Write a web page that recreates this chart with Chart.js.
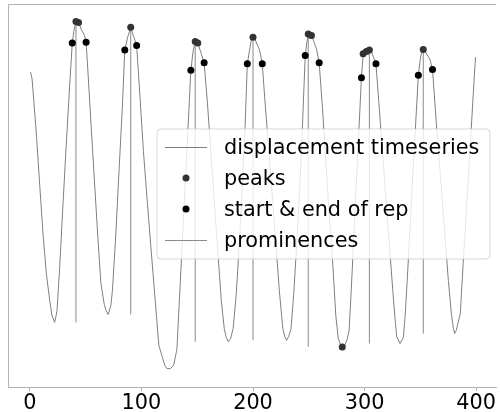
<!DOCTYPE html>
<html>
<head>
<meta charset="utf-8">
<script src="https://cdn.jsdelivr.net/npm/chart.js@4.4.1/dist/chart.umd.min.js"></script>
<style>
  html, body { margin: 0; padding: 0; background: #ffffff; }
  #wrap { width: 500px; height: 412px; position: relative; }
</style>
</head>
<body>
<div id="wrap"><canvas id="c" width="500" height="412"></canvas></div>
<script>
// ---- data ----
const timeX = [0.6, 2.0, 3.6, 6.0, 8.9, 11.8, 14.8, 17.8, 19.8, 22.2, 24.3, 26.7, 29.6, 32.6, 35.6, 38.0, 39.6, 41.3, 43.6, 46.0, 48.9, 50.4,
  51.8, 54.8, 57.8, 60.7, 63.7, 66.7, 68.4, 70.2, 72.6, 74.0, 77.1, 80.0, 82.9, 85.1, 87.6, 90.4, 92.7, 94.2, 95.7,
  98.7, 101.8, 105.2, 108.4, 112.0, 115.6, 118.5, 120.9, 122.9, 126.0, 128.9, 131.8, 134.8, 137.8, 140.7, 144.3, 146.2, 148.2, 150.5, 153.2, 156.2,
  159.1, 162.2, 165.3, 168.4, 171.6, 174.2, 176.0, 177.8, 180.0, 182.2, 184.9, 187.6, 190.2, 192.9, 194.9, 196.9, 198.5, 200.0, 201.8, 203.6, 205.3, 206.7, 208.3,
  211.1, 214.2, 217.3, 220.4, 223.6, 226.7, 228.4, 230.2, 232.0, 234.0, 236.4, 239.1, 241.8, 244.4, 246.8, 248.3, 249.5, 251.1, 252.4, 254.8, 256.9, 259.3,
  262.2, 265.3, 268.4, 271.6, 274.2, 276.4, 278.2, 280.0, 282.2, 284.4, 286.2, 288.9, 291.6, 294.2, 297.2, 298.2, 298.7, 301.6, 304.3, 306.2, 308.0, 310.2,
  312.9, 316.0, 319.1, 322.2, 325.3, 327.6, 328.9, 331.8, 334.8, 336.3, 338.7, 341.3, 344.4, 348.2, 349.8, 351.1, 352.6, 354.7, 356.9, 358.5, 360.9,
  364.4, 368.0, 371.6, 375.1, 377.8, 379.6, 380.7, 382.2, 383.7, 385.8, 388.4, 391.6, 394.7, 397.3, 399.4];
const displacement = [317, 310, 287, 252, 202, 154, 114, 87, 72, 65, 76, 120, 182, 244, 302, 346.3, 359, 368, 367, 360, 354, 347,
  322, 265, 209, 155, 104, 83, 77, 73, 82, 97, 155, 219, 282, 339.3, 352, 362, 354, 349, 343.7,
  292, 237, 187, 142, 92, 42, 31, 22, 18.5, 18.5, 22, 38, 105, 172, 237, 318.7, 337, 347.7, 346.3, 337, 326.3,
  287, 237, 187, 137, 87, 59, 50, 45.5, 49, 59, 92, 142, 197, 262, 325.3, 339, 349, 352, 350, 345, 341, 335, 325.3,
  282, 237, 192, 145, 97, 59, 51, 47, 51, 58, 92, 142, 197, 265, 333.7, 347, 355.3, 354, 353.7, 347, 340.3, 326.3,
  282, 227, 172, 122, 72, 49, 43, 40.3, 42, 48, 57, 117, 182, 242, 311.3, 327, 335.3, 337.7, 339.3, 337, 332, 325.3,
  285, 237, 190, 144, 97, 65, 50.3, 43.7, 50.3, 70.3, 117, 172, 237, 313.7, 329, 337, 339.7, 337, 333, 330, 319.5,
  264, 212, 159, 107, 74, 59, 53.7, 57, 64, 74, 125, 184, 242, 293, 332];

const peaksX = [41.3, 43.6, 90.4, 148.2, 150.5, 200.0, 249.5, 252.4, 280.0, 298.7, 301.6, 304.3, 352.6];
const peaksY = [368, 367, 362, 347.7, 346.3, 352, 355.3, 353.7, 40.3, 335.3, 337.7, 339.3, 339.7];

const repX = [38.0, 50.4, 85.1, 95.7, 144.3, 156.2, 194.9, 208.3, 246.8, 259.3, 297.2, 310.2, 348.2, 360.9];
const repY = [346.3, 347, 339.3, 343.7, 318.7, 326.3, 325.3, 325.3, 333.7, 326.3, 311.3, 325.3, 313.7, 319.5];

const promX = [41.3, 90.4, 148.2, 200.0, 249.5, 304.3, 352.6];
const promBase = [65, 73, 45.5, 47, 40.3, 43.7, 53.7];
const promTop = [368, 362, 347.7, 352, 355.3, 339.3, 339.7];

const xTickLabels = [0, 100, 200, 300, 400];
const seriesLabels = ['displacement timeseries', 'peaks', 'start & end of rep', 'prominences'];

// ---- build datasets ----
const lineData = timeX.map((x, i) => ({ x: x, y: displacement[i] }));
const peakData = peaksX.map((x, i) => ({ x: x, y: peaksY[i] }));
const repData = repX.map((x, i) => ({ x: x, y: repY[i] }));
const promData = [];
promX.forEach((x, i) => {
  promData.push({ x: x, y: promBase[i] });
  promData.push({ x: x, y: promTop[i] });
  promData.push({ x: x, y: null });
});

const LINE_COLOR = '#7f7f7f';
const PROM_COLOR = '#8a8a8a';
const PEAK_COLOR = '#333333';
const REP_COLOR = '#000000';
const SPINE_COLOR = '#b3b3b3';
const FONT = '"DejaVu Sans", Verdana, sans-serif';

const framePlugin = {
  id: 'frame',
  beforeDatasetsDraw(chart) {
    const { ctx, chartArea: a } = chart;
    ctx.save();
    ctx.strokeStyle = SPINE_COLOR;
    ctx.lineWidth = 1;
    ctx.beginPath();
    ctx.moveTo(a.left + 0.5, a.bottom);
    ctx.lineTo(a.left + 0.5, a.top + 0.5);
    ctx.lineTo(a.right, a.top + 0.5);
    ctx.stroke();
    ctx.restore();
  }
};

const legendPlugin = {
  id: 'boxLegend',
  afterDraw(chart) {
    const ctx = chart.ctx;
    const bx = 157, by = 129, bw = 333, bh = 130, r = 4;
    ctx.save();
    ctx.beginPath();
    ctx.moveTo(bx + r, by);
    ctx.lineTo(bx + bw - r, by);
    ctx.quadraticCurveTo(bx + bw, by, bx + bw, by + r);
    ctx.lineTo(bx + bw, by + bh - r);
    ctx.quadraticCurveTo(bx + bw, by + bh, bx + bw - r, by + bh);
    ctx.lineTo(bx + r, by + bh);
    ctx.quadraticCurveTo(bx, by + bh, bx, by + bh - r);
    ctx.lineTo(bx, by + r);
    ctx.quadraticCurveTo(bx, by, bx + r, by);
    ctx.closePath();
    ctx.fillStyle = 'rgba(255,255,255,0.8)';
    ctx.fill();
    ctx.strokeStyle = 'rgba(204,204,204,0.8)';
    ctx.lineWidth = 1;
    ctx.stroke();

    const rows = [147, 178, 209, 240];
    const kinds = ['line', 'peak', 'rep', 'line2'];
    ctx.font = '20.8px ' + FONT;
    ctx.fillStyle = '#000000';
    ctx.textBaseline = 'alphabetic';
    rows.forEach((yy, i) => {
      const k = kinds[i];
      if (k === 'line' || k === 'line2') {
        ctx.strokeStyle = k === 'line' ? LINE_COLOR : PROM_COLOR;
        ctx.lineWidth = 1;
        ctx.beginPath();
        ctx.moveTo(165, yy + 0.5);
        ctx.lineTo(207, yy + 0.5);
        ctx.stroke();
      } else {
        ctx.fillStyle = k === 'peak' ? PEAK_COLOR : REP_COLOR;
        ctx.beginPath();
        ctx.arc(186, yy, 3.5, 0, Math.PI * 2);
        ctx.fill();
      }
      ctx.fillStyle = '#000000';
      ctx.fillText(chart.data.datasets[i].label, 224, yy + 7);
    });
    ctx.restore();
  }
};

new Chart(document.getElementById('c'), {
  type: 'line',
  data: {
    datasets: [
      { label: seriesLabels[0], data: lineData, borderColor: LINE_COLOR, borderWidth: 1, pointRadius: 0, tension: 0, fill: false, order: 3 },
      { label: seriesLabels[1], type: 'scatter', data: peakData, backgroundColor: PEAK_COLOR, borderColor: PEAK_COLOR, pointRadius: 3.5, borderWidth: 0, order: 1 },
      { label: seriesLabels[2], type: 'scatter', data: repData, backgroundColor: REP_COLOR, borderColor: REP_COLOR, pointRadius: 3.5, borderWidth: 0, order: 0 },
      { label: seriesLabels[3], data: promData, borderColor: PROM_COLOR, borderWidth: 1, pointRadius: 0, spanGaps: false, fill: false, order: 2 }
    ]
  },
  options: {
    responsive: false,
    animation: false,
    devicePixelRatio: 1,
    layout: { padding: { left: 8, top: 1, right: 0, bottom: 0 } },
    plugins: { legend: { display: false }, tooltip: { enabled: false } },
    scales: {
      x: {
        type: 'linear',
        min: -19.6,
        max: 417.8,
        afterFit: (s) => { s.height = 25; },
        afterBuildTicks: (s) => { s.ticks = xTickLabels.map(v => ({ value: v })); },
        ticks: { font: { family: FONT, size: 20.8 }, color: '#000000', padding: 0, maxRotation: 0, autoSkip: false },
        grid: { drawOnChartArea: false, drawTicks: true, tickLength: 4, color: SPINE_COLOR },
        border: { display: true, color: SPINE_COLOR, width: 1 }
      },
      y: {
        type: 'linear',
        display: false,
        min: 0,
        max: 385.5
      }
    }
  },
  plugins: [framePlugin, legendPlugin]
});
</script>
</body>
</html>
